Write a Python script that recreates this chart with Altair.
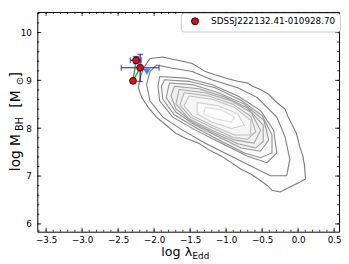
import altair as alt
import pandas as pd

# ---------------- data ----------------
source_name = "SDSSJ222132.41-010928.70"

# red points (log lambda_Edd, log M_BH)
pt_x = [-2.25, -2.194, -2.293]
pt_y = [9.42, 9.265, 8.99]

# error bars for the first two points
eb_x = [-2.25, -2.194]
eb_y = [9.42, 9.265]
eb_xlo = [-2.33, -2.456]
eb_xhi = [-2.18, -1.931]
eb_ylo = [9.35, 8.975]
eb_yhi = [9.50, 9.545]

# light blue marker
tri_x = [-2.10]
tri_y = [9.18]

# green connectors
gl_x = [-2.293, -2.293]
gl_y = [8.99, 8.99]
gl_x2 = [-2.194, -2.25]
gl_y2 = [9.265, 9.42]

# contour vertices (outer -> inner)
contours = [
    ([-2.058, -1.878, -1.742, -1.606, -1.471, -1.358, -1.290, -1.154, -0.974, -0.838, -0.702, -0.635,
      -0.522, -0.409, -0.296, -0.183, -0.137, -0.092, -0.024, 0.021, 0.066, 0.089, 0.102, 0.021,
      -0.115, -0.250, -0.363, -0.431, -0.522, -0.657, -0.793, -0.928, -1.064, -1.245, -1.380,
      -1.561, -1.697, -1.832, -1.968, -2.081, -2.171, -2.217, -2.194, -2.149],
     [9.456, 9.490, 9.442, 9.402, 9.354, 9.252, 9.184, 9.116, 9.034, 8.980, 8.946, 8.878,
      8.810, 8.708, 8.538, 8.402, 8.232, 8.096, 7.892, 7.620, 7.416, 7.212, 6.940, 6.872,
      6.770, 6.668, 6.702, 6.804, 6.906, 7.042, 7.144, 7.280, 7.416, 7.552, 7.688,
      7.790, 7.892, 8.062, 8.232, 8.436, 8.640, 8.844, 9.048, 9.252]),
    ([-1.968, -1.742, -1.471, -1.200, -0.838, -0.567, -0.296, -0.183, -0.115, -0.160, -0.386, -0.657,
      -0.928, -1.290, -1.606, -1.878, -2.058, -2.104, -2.058],
     [9.320, 9.252, 9.184, 9.014, 8.844, 8.640, 8.232, 7.824, 7.348, 7.008, 7.008, 7.212,
      7.416, 7.688, 7.960, 8.232, 8.572, 8.912, 9.184]),
    ([-1.923, -1.561, -1.200, -0.838, -0.522, -0.341, -0.296, -0.431, -0.702, -1.064, -1.426, -1.742,
      -1.923, -1.945],
     [9.082, 9.048, 8.912, 8.674, 8.368, 7.960, 7.484, 7.280, 7.416, 7.688, 7.960, 8.232,
      8.572, 8.878]),
    ([-1.855, -1.516, -1.154, -0.793, -0.499, -0.363, -0.363, -0.522, -0.748, -1.087, -1.426, -1.720,
      -1.878, -1.900],
     [9.014, 8.980, 8.844, 8.586, 8.266, 7.858, 7.484, 7.382, 7.484, 7.742, 8.014, 8.280,
      8.606, 8.878]),
    ([-1.787, -1.471, -1.109, -0.748, -0.476, -0.409, -0.522, -0.793, -1.109, -1.426, -1.697, -1.832],
     [8.946, 8.912, 8.742, 8.504, 8.164, 7.756, 7.518, 7.586, 7.824, 8.062, 8.334, 8.640]),
    ([-1.719, -1.380, -1.019, -0.702, -0.485, -0.485, -0.589, -0.838, -1.154, -1.471, -1.697, -1.765],
     [8.878, 8.824, 8.654, 8.422, 8.062, 7.722, 7.586, 7.674, 7.892, 8.130, 8.402, 8.674]),
    ([-1.652, -1.290, -0.928, -0.657, -0.522, -0.612, -0.884, -1.200, -1.516, -1.697],
     [8.810, 8.742, 8.572, 8.334, 7.960, 7.688, 7.756, 7.960, 8.198, 8.504]),
    ([-1.584, -1.245, -0.906, -0.657, -0.589, -0.702, -0.906, -1.200, -1.493, -1.642],
     [8.742, 8.674, 8.504, 8.246, 7.926, 7.770, 7.810, 8.014, 8.232, 8.484]),
    ([-1.516, -1.200, -0.884, -0.657, -0.657, -0.884, -1.200, -1.471, -1.584],
     [8.674, 8.606, 8.436, 8.164, 7.858, 7.858, 8.062, 8.266, 8.470]),
    ([-1.403, -1.109, -0.838, -0.748, -0.928, -1.200, -1.403],
     [8.538, 8.470, 8.300, 8.062, 7.994, 8.130, 8.300]),
    ([-1.290, -1.064, -0.884, -0.928, -1.155, -1.313],
     [8.436, 8.382, 8.232, 8.130, 8.198, 8.300]),
]
contour_colors = ["#777777", "#7d7d7d", "#858585", "#8e8e8e", "#969696", "#9e9e9e",
                  "#a8a8a8", "#b3b3b3", "#bfbfbf", "#cccccc", "#dadada"]
fill_colors = ["#ffffff", "#ffffff", "#fdfdfd", "#f8f8f8", "#f3f3f3", "#efefef",
               "#efefef", "#f2f2f2", "#f6f6f6", "#fbfbfb", "#ffffff"]

x_major = [-3.5, -3.0, -2.5, -2.0, -1.5, -1.0, -0.5, 0.0, 0.5]
x_minor = [round(-3.6 + 0.1 * i, 1) for i in range(42)]
y_major = [6, 7, 8, 9, 10]
y_minor = [round(6.0 + 0.2 * i, 1) for i in range(23)]

# ---------------- build tables ----------------
rows = []
for lvl, (xs, ys) in enumerate(contours):
    n = len(xs)
    for i in range(n + 1):
        rows.append({"lvl": lvl, "idx": i, "x": xs[i % n], "y": ys[i % n]})
cdf = pd.DataFrame(rows)

W, H = 309, 225
XD = [-3.622, 0.568]
YD = [5.837, 10.43]
xs_ = alt.Scale(domain=XD, nice=False, zero=False)
ys_ = alt.Scale(domain=YD, nice=False, zero=False)
FONT = "DejaVu Sans"
x_axis = alt.Axis(values=x_major, format=".1f", title=None, ticks=False, tickSize=0, domain=False,
                  grid=False, labelFontSize=9, labelPadding=4, labelFont=FONT, labelColor="black",
                  labelFlush=False)
y_axis = alt.Axis(values=y_major, format="d", title=None, ticks=False, tickSize=0, domain=False,
                  grid=False, labelFontSize=9, labelPadding=6, labelFont=FONT, labelColor="black",
                  labelFlush=False)

def X(f):
    return alt.X(f, scale=xs_, axis=x_axis)

def Y(f):
    return alt.Y(f, scale=ys_, axis=y_axis)

layers = []
# filled contour interiors
for lvl in range(len(contours)):
    layers.append(
        alt.Chart(cdf[cdf.lvl == lvl]).mark_line(fill=fill_colors[lvl], strokeOpacity=0)
        .encode(x=X("x:Q"), y=Y("y:Q"), order="idx:Q")
    )
# contour lines
layers.append(
    alt.Chart(cdf).mark_line(strokeWidth=1.1)
    .encode(x=X("x:Q"), y=Y("y:Q"), detail="lvl:N", order="idx:Q",
            stroke=alt.Stroke("lvl:N", scale=alt.Scale(domain=list(range(len(contours))),
                                                       range=contour_colors), legend=None))
)
# green connectors
gdf = pd.DataFrame({"x": gl_x, "y": gl_y, "x2": gl_x2, "y2": gl_y2})
layers.append(alt.Chart(gdf).mark_rule(color="#2ca02c", strokeWidth=1.3)
              .encode(x=X("x:Q"), y=Y("y:Q"), x2="x2:Q", y2="y2:Q"))
# error bars
edf = pd.DataFrame({"x": eb_x, "y": eb_y, "xlo": eb_xlo, "xhi": eb_xhi, "ylo": eb_ylo, "yhi": eb_yhi})
BLUE = "#1010ff"
layers.append(alt.Chart(edf).mark_rule(color=BLUE, strokeWidth=1.2)
              .encode(x=X("xlo:Q"), x2="xhi:Q", y=Y("y:Q")))
layers.append(alt.Chart(edf).mark_rule(color=BLUE, strokeWidth=1.2)
              .encode(x=X("x:Q"), y=Y("ylo:Q"), y2="yhi:Q"))
for c in ["xlo", "xhi"]:
    layers.append(alt.Chart(edf).mark_tick(color=BLUE, orient="vertical", size=6, thickness=1.2)
                  .encode(x=X(f"{c}:Q"), y=Y("y:Q")))
for c in ["ylo", "yhi"]:
    layers.append(alt.Chart(edf).mark_tick(color=BLUE, orient="horizontal", size=6, thickness=1.2)
                  .encode(x=X("x:Q"), y=Y(f"{c}:Q")))
# light blue marker
tdf = pd.DataFrame({"x": tri_x, "y": tri_y})
layers.append(alt.Chart(tdf).mark_point(shape="triangle-down", filled=True, color="#1e90ff", size=60, opacity=1)
              .encode(x=X("x:Q"), y=Y("y:Q")))
# red points with legend
pdf = pd.DataFrame({"x": pt_x, "y": pt_y, "name": [source_name] * len(pt_x)})
layers.append(
    alt.Chart(pdf).mark_point(shape="circle", filled=True, size=50, stroke="black", strokeWidth=0.8, opacity=1)
    .encode(x=X("x:Q"), y=Y("y:Q"),
            fill=alt.Fill("name:N", scale=alt.Scale(range=["#ff0000"]),
                          legend=alt.Legend(title=None, orient="none", legendX=147, legendY=1,
                                            fillColor="white",
                                            strokeColor="#cccccc", padding=4, cornerRadius=3,
                                            symbolType="circle", symbolSize=50, symbolStrokeColor="black",
                                            symbolStrokeWidth=1, symbolOffset=6, labelOffset=12,
                                            labelFontSize=9, labelFont=FONT, labelColor="black",
                                            labelLimit=300)))
)
# inward ticks
def tick_layer(vals, axis, side, length):
    df = pd.DataFrame({"v": vals})
    if axis == "x":
        y0 = H if side == "bottom" else 0
        y1 = H - length if side == "bottom" else length
        return alt.Chart(df).mark_rule(color="black", strokeWidth=0.8).encode(
            x=X("v:Q"), y=alt.value(y0), y2=alt.value(y1))
    x0 = 0 if side == "left" else W
    x1 = length if side == "left" else W - length
    return alt.Chart(df).mark_rule(color="black", strokeWidth=0.8).encode(
        y=Y("v:Q"), x=alt.value(x0), x2=alt.value(x1))

for side in ["bottom", "top"]:
    layers.append(tick_layer(x_major, "x", side, 4))
    layers.append(tick_layer(x_minor, "x", side, 2))
for side in ["left", "right"]:
    layers.append(tick_layer(y_major, "y", side, 4))
    layers.append(tick_layer(y_minor, "y", side, 2))

# axis titles with subscripts
one = pd.DataFrame({"a": [0]})
def txt(t, x, y, size, angle=0):
    return alt.Chart(one).mark_text(text=t, fontSize=size, font=FONT, color="black", align="left",
                                    baseline="alphabetic", angle=angle).encode(
        x=alt.value(x), y=alt.value(y))

layers += [
    txt("log λ", 127, 250, 13),
    txt("Edd", 159, 253, 9),
    txt("log M", -18, 163, 14, 270),
    txt("BH", -15, 122, 10, 270),
    txt("[M", -18, 98, 14, 270),
    txt("⊙", -15, 75, 10, 270),
    txt("]", -18, 67, 14, 270),
]

chart = alt.layer(*layers).properties(
    width=W, height=H, autosize=alt.AutoSizeParams(type="none"),
    padding={"left": 30, "top": 1, "right": 2, "bottom": 30}
).configure_view(stroke="black", strokeWidth=1)

chart.save("out.html", embed_options={"renderer": "svg", "actions": False})
